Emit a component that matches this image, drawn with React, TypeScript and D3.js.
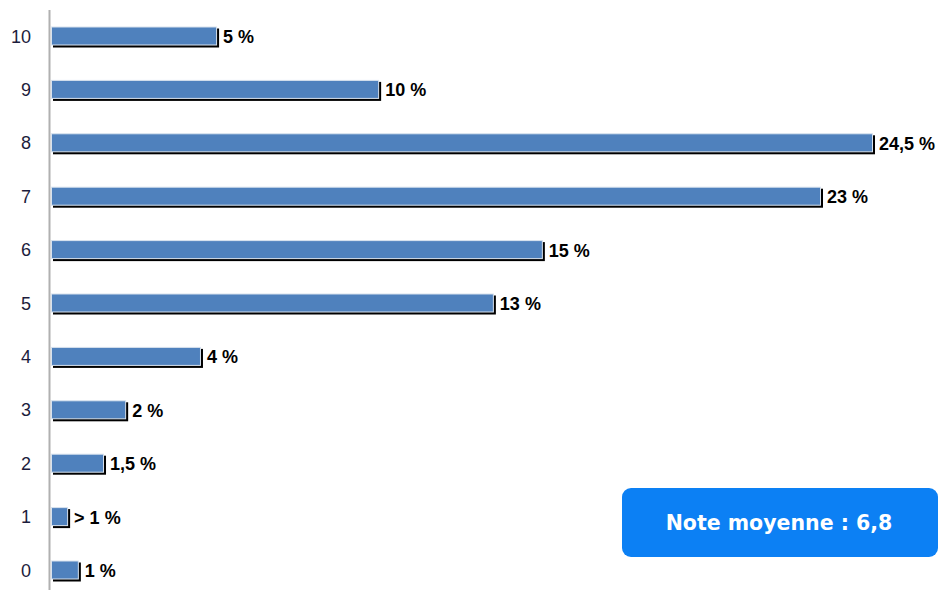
import React from "react";
import * as d3 from "d3";

const categories = ["10", "9", "8", "7", "6", "5", "4", "3", "2", "1", "0"];
const values = [4.95, 9.78, 24.5, 22.95, 14.66, 13.2, 4.47, 2.24, 1.58, 0.51, 0.83];
const valueLabels = ["5 %", "10 %", "24,5 %", "23 %", "15 %", "13 %", "4 %", "2 %", "1,5 %", "> 1 %", "1 %"];
const noteText = "Note moyenne : 6,8";

const W = 940;
const H = 590;

export default function App() {
  const y = d3.scaleBand<string>().domain(categories).range([9.3, 596.7]).paddingInner(0.644).paddingOuter(0.322);
  const x = d3.scaleLinear().domain([0, 24.5]).range([51, 873]);
  const bh = y.bandwidth();

  return (
    <svg width={W} height={H} style={{ position: "absolute", left: 0, top: 0, background: "#fff" }}>
      <line x1={49.5} x2={49.5} y1={10} y2={H} stroke="#b0b0b0" strokeWidth={2} />
      {categories.map((c, i) => {
        const yc = (y(c) ?? 0);
        const x0 = x(0);
        const x1 = x(values[i]);
        return (
          <g key={c}>
            <text x={31} y={yc + bh / 2 + 0.5} textAnchor="end" dominantBaseline="central"
              fontFamily="Liberation Sans, Arial, sans-serif" fontSize={18} fill="#1c1c3c">{c}</text>
            <rect x={x0 + 2} y={yc + 2} width={x1 - x0} height={bh} fill="#000" />
            <rect x={x0 + 0.5} y={yc + 0.5} width={x1 - x0 - 1} height={bh - 1} fill="#4f81bd" stroke="#d8e2ee" strokeWidth={1} />
            <text x={x1 + 6} y={yc + bh / 2 + 1} dominantBaseline="central"
              fontFamily="Liberation Sans, Arial, sans-serif" fontSize={18} fontWeight="bold" fill="#000">{valueLabels[i]}</text>
          </g>
        );
      })}
      <rect x={622} y={488} width={316} height={69} rx={9} ry={9} fill="#0c80f4" />
      <text x={779} y={523} textAnchor="middle" dominantBaseline="central"
        fontFamily="DejaVu Sans, sans-serif" fontSize={20.5} fontWeight="bold" fill="#fff">{noteText}</text>
    </svg>
  );
}
